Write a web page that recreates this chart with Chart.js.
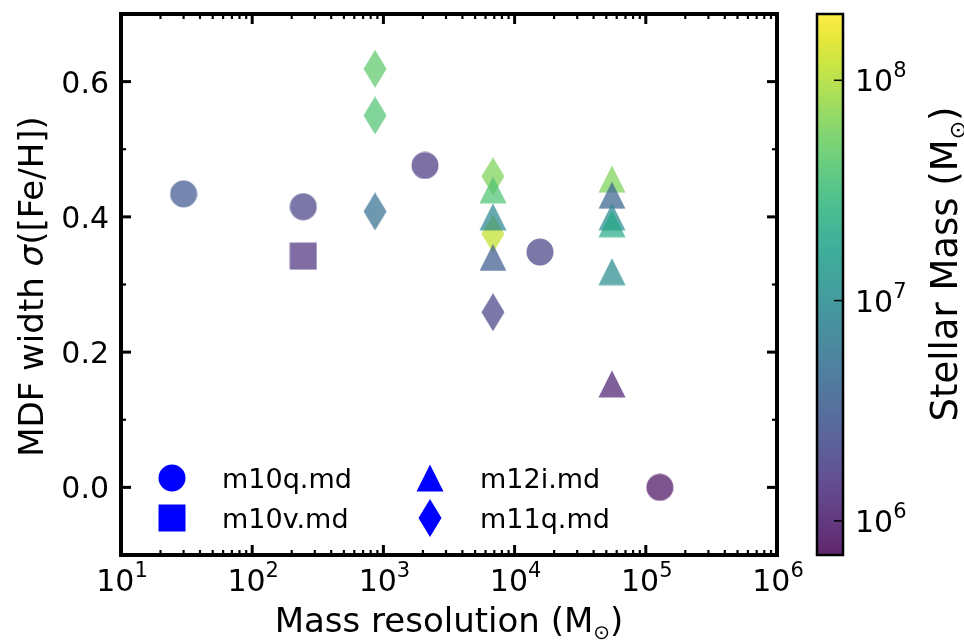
<!DOCTYPE html>
<html>
<head>
<meta charset="utf-8">
<script src="https://cdn.jsdelivr.net/npm/chart.js@4.4.0/dist/chart.umd.min.js"></script>
<style>
  html, body { margin: 0; padding: 0; background: #fff; }
  #wrap { width: 964px; height: 643px; }
</style>
</head>
<body>
<div id="wrap"><canvas id="myChart" width="964" height="643"></canvas></div>
<script>
// legend order
const simNames = ['m10q.md', 'm10v.md', 'm12i.md', 'm11q.md'];
const simShapes = ['circle', 'square', 'triangle', 'diamond'];

// m10q.md
const m10qRes = [30, 245, 2075, 15600, 128000];
const m10qSigma = [0.434, 0.415, 0.476, 0.348, 0.0];
const m10qMstar = [3.0e6, 1.9e6, 1.6e6, 1.9e6, 8.3e5];

// m10v.md
const m10vRes = [245];
const m10vSigma = [0.342];
const m10vMstar = [1.45e6];

// m12i.md
const m12iRes = [6840, 6840, 6840, 55200, 55200, 55200, 55200, 55200, 55200];
const m12iSigma = [0.440, 0.400, 0.340, 0.456, 0.432, 0.400, 0.390, 0.319, 0.153];
const m12iMstar = [3.9e7, 8.9e6, 3.2e6, 6.4e7, 3.8e6, 1.0e7, 2.1e7, 1.0e7, 1.1e6];

// m11q.md
const m11qRes = [863, 863, 863, 6840, 6840, 6840];
const m11qSigma = [0.619, 0.550, 0.408, 0.460, 0.375, 0.259];
const m11qMstar = [4.6e7, 3.9e7, 5.1e6, 6.4e7, 1.14e8, 1.9e6];

const xTicks = [1e1, 1e2, 1e3, 1e4, 1e5, 1e6];
const yTicks = [0.0, 0.2, 0.4, 0.6];
const yMinorTicks = [0.1, 0.3, 0.5];
const cbTicks = [1e6, 1e7, 1e8];
const cbMin = 7e5, cbMax = 2e8;

const FONT = "'DejaVu Sans', sans-serif";

// viridis stops, every 0.05
const VIRIDIS = [
  [68,1,84],[71,19,101],[72,36,117],[70,52,128],[65,68,135],[59,82,139],[53,95,141],
  [47,108,142],[42,120,142],[37,132,142],[33,145,140],[30,156,137],[34,168,132],
  [47,180,124],[68,191,112],[94,201,98],[122,209,81],[155,217,60],[189,223,38],
  [223,227,24],[253,231,37]
];

function viridis(t) {
  t = Math.max(0, Math.min(1, t)) * (VIRIDIS.length - 1);
  const i = Math.min(Math.floor(t), VIRIDIS.length - 2);
  const f = t - i;
  const a = VIRIDIS[i], b = VIRIDIS[i + 1];
  return [0, 1, 2].map(k => Math.round(a[k] + (b[k] - a[k]) * f));
}

function massColor(m, alpha) {
  const t = (Math.log10(m) - Math.log10(cbMin)) / (Math.log10(cbMax) - Math.log10(cbMin));
  const c = viridis(t);
  return `rgba(${c[0]},${c[1]},${c[2]},${alpha})`;
}

const markerCache = {};
function marker(shape, color) {
  const key = shape + color;
  if (markerCache[key]) return markerCache[key];
  const c = document.createElement('canvas');
  let w = 28, h = 28;
  if (shape === 'diamond') { w = 24; h = 38; }
  c.width = w; c.height = h;
  const g = c.getContext('2d');
  g.fillStyle = color;
  g.beginPath();
  if (shape === 'circle') g.arc(w / 2, h / 2, 13.5, 0, 2 * Math.PI);
  else if (shape === 'square') g.rect(0.5, 0.5, 27, 27);
  else if (shape === 'triangle') { g.moveTo(14, 0.5); g.lineTo(27.5, 27.5); g.lineTo(0.5, 27.5); g.closePath(); }
  else { g.moveTo(12, 0); g.lineTo(23.5, 19); g.lineTo(12, 38); g.lineTo(0.5, 19); g.closePath(); }
  g.fill();
  markerCache[key] = c;
  return c;
}

function makeDataset(i, res, sigma, mstar) {
  return {
    label: simNames[i],
    data: res.map((x, k) => ({ x: x, y: sigma[k] })),
    pointStyle: mstar.map(m => marker(simShapes[i], massColor(m, 0.7))),
    pointRadius: 14,
    borderWidth: 0
  };
}

// text made of pieces: [text, font, dy]
function drawPieces(ctx, pieces, x, y, align) {
  let total = 0;
  const widths = pieces.map(p => { ctx.font = p[1]; const w = ctx.measureText(p[0]).width; total += w; return w; });
  let cx = align === 'center' ? x - total / 2 : (align === 'right' ? x - total : x);
  ctx.textAlign = 'left';
  ctx.textBaseline = 'alphabetic';
  pieces.forEach((p, k) => { ctx.font = p[1]; ctx.fillText(p[0], cx, y + (p[2] || 0)); cx += widths[k]; });
}

function powPieces(v) {
  const e = Math.round(Math.log10(v));
  return [['10', `30px ${FONT}`, 0], [String(e), `21px ${FONT}`, -14]];
}

function line(ctx, x1, y1, x2, y2) {
  ctx.beginPath(); ctx.moveTo(x1, y1); ctx.lineTo(x2, y2); ctx.stroke();
}

const axesPlugin = {
  id: 'axesPlugin',
  afterDatasetsDraw(chart) {
    const ctx = chart.ctx;
    const { left, right, top, bottom } = chart.chartArea;
    const xs = chart.scales.x, ys = chart.scales.y, cb = chart.scales.cb;
    ctx.save();
    ctx.strokeStyle = '#000';
    ctx.fillStyle = '#000';

    // ticks, inward on all sides
    ctx.lineWidth = 3;
    xTicks.forEach(v => {
      const px = xs.getPixelForValue(v);
      line(ctx, px, bottom, px, bottom - 10);
      line(ctx, px, top, px, top + 10);
    });
    ctx.lineWidth = 2.2;
    for (let d = 1; d < 6; d++) {
      for (let k = 2; k <= 9; k++) {
        const px = xs.getPixelForValue(k * Math.pow(10, d));
        line(ctx, px, bottom, px, bottom - 5);
        line(ctx, px, top, px, top + 5);
      }
    }
    ctx.lineWidth = 3;
    yTicks.forEach(v => {
      const py = ys.getPixelForValue(v);
      line(ctx, left, py, left + 10, py);
      line(ctx, right, py, right - 10, py);
    });
    ctx.lineWidth = 2.2;
    yMinorTicks.forEach(v => {
      const py = ys.getPixelForValue(v);
      line(ctx, left, py, left + 5, py);
      line(ctx, right, py, right - 5, py);
    });

    // frame
    ctx.lineWidth = 4;
    ctx.strokeRect(left, top, right - left, bottom - top);

    // tick labels
    xTicks.forEach(v => drawPieces(ctx, powPieces(v), xs.getPixelForValue(v) + 1, bottom + 36, 'center'));
    yTicks.forEach(v => drawPieces(ctx, [[v.toFixed(1), `30px ${FONT}`, 0]], left - 12, ys.getPixelForValue(v) + 11, 'right'));

    // axis titles
    drawPieces(ctx, [['Mass resolution (M', `34px ${FONT}`, 0], ['\u2299', `20px ${FONT}`, 7], [')', `34px ${FONT}`, 0]],
      (left + right) / 2, 632, 'center');
    ctx.save();
    ctx.translate(43, (top + bottom) / 2 + 2);
    ctx.rotate(-Math.PI / 2);
    drawPieces(ctx, [['MDF width ', `34px ${FONT}`, 0], ['\u03c3', `italic 34px ${FONT}`, 0], ['([Fe/H])', `34px ${FONT}`, 0]], 0, 0, 'center');
    ctx.restore();

    // colorbar
    const x0 = 817, x1 = 843;
    for (let py = Math.floor(cb.top); py < cb.bottom; py++) {
      ctx.fillStyle = massColor(cb.getValueForPixel(py + 0.5), 0.85);
      ctx.fillRect(x0, py, x1 - x0, 1);
    }
    ctx.fillStyle = '#000';
    ctx.lineWidth = 1.5;
    cbTicks.forEach(v => {
      const py = cb.getPixelForValue(v);
      line(ctx, x1 - 9, py, x1, py);
      drawPieces(ctx, powPieces(v), 855, py + 11, 'left');
    });
    ctx.lineWidth = 2.5;
    ctx.strokeRect(x0, cb.top, x1 - x0, cb.bottom - cb.top);

    ctx.save();
    ctx.translate(957, 264);
    ctx.rotate(-Math.PI / 2);
    drawPieces(ctx, [['Stellar Mass (M', `37px ${FONT}`, 0], ['\u2299', `22px ${FONT}`, 8], [')', `37px ${FONT}`, 0]], 0, 0, 'center');
    ctx.restore();

    // legend
    const legendPos = [[left + 51, bottom - 77], [left + 51, bottom - 37], [left + 309, bottom - 77], [left + 309, bottom - 37]];
    simNames.forEach((name, i) => {
      const m = marker(simShapes[i], '#0000ff');
      const [lx, ly] = legendPos[i];
      ctx.drawImage(m, lx - m.width / 2, ly - m.height / 2);
      ctx.fillStyle = '#000';
      drawPieces(ctx, [[name, `27px ${FONT}`, 0]], lx + 50, ly + 10, 'left');
    });
    ctx.restore();
  }
};

const datasets = [
  makeDataset(0, m10qRes, m10qSigma, m10qMstar),
  makeDataset(1, m10vRes, m10vSigma, m10vMstar),
  makeDataset(2, m12iRes, m12iSigma, m12iMstar),
  makeDataset(3, m11qRes, m11qSigma, m11qMstar)
];

const ctx = document.getElementById('myChart').getContext('2d');
new Chart(ctx, {
  type: 'scatter',
  data: { datasets: datasets },
  options: {
    responsive: false,
    animation: false,
    events: [],
    layout: { padding: { left: 121, right: 187, top: 10, bottom: 88 } },
    scales: {
      x: { type: 'logarithmic', min: 10, max: 1e6, display: false },
      y: { type: 'linear', min: -0.1, max: 0.7, display: false },
      cb: { type: 'logarithmic', axis: 'y', position: 'right', min: cbMin, max: cbMax, display: false }
    },
    plugins: { legend: { display: false }, tooltip: { enabled: false } }
  },
  plugins: [axesPlugin]
});
</script>
</body>
</html>
